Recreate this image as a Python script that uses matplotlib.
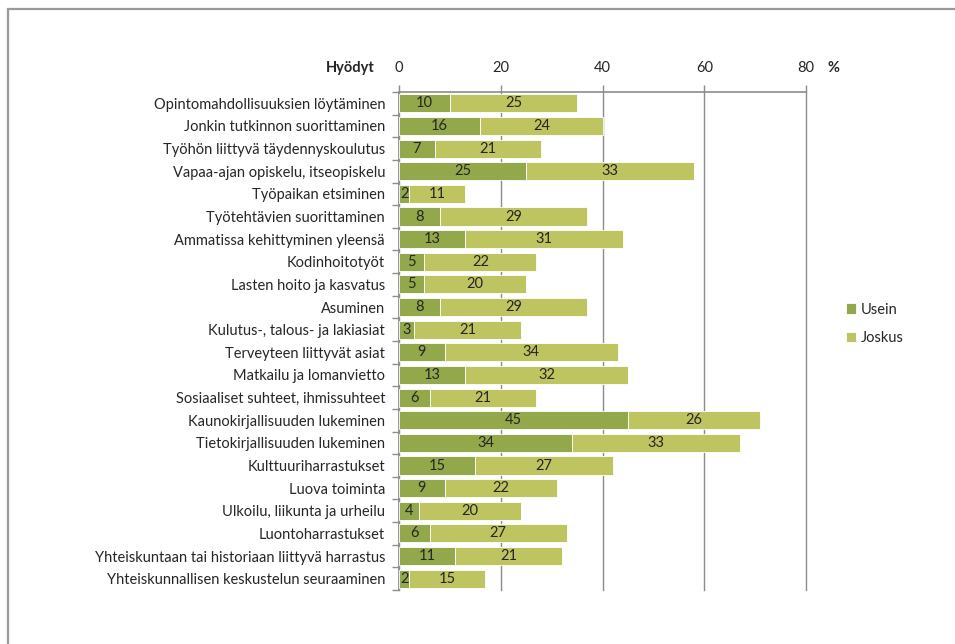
import matplotlib
matplotlib.use("Agg")
import matplotlib.pyplot as plt
from matplotlib.patches import Rectangle
from matplotlib.ticker import FixedLocator
import numpy as np

plt.rcParams['font.family'] = ['Lato', 'DejaVu Sans']

categories = [
    "Opintomahdollisuuksien löytäminen",
    "Jonkin tutkinnon suorittaminen",
    "Työhön liittyvä täydennyskoulutus",
    "Vapaa-ajan opiskelu, itseopiskelu",
    "Työpaikan etsiminen",
    "Työtehtävien suorittaminen",
    "Ammatissa kehittyminen yleensä",
    "Kodinhoitotyöt",
    "Lasten hoito ja kasvatus",
    "Asuminen",
    "Kulutus-, talous- ja lakiasiat",
    "Terveyteen liittyvät asiat",
    "Matkailu ja lomanvietto",
    "Sosiaaliset suhteet, ihmissuhteet",
    "Kaunokirjallisuuden lukeminen",
    "Tietokirjallisuuden lukeminen",
    "Kulttuuriharrastukset",
    "Luova toiminta",
    "Ulkoilu, liikunta ja urheilu",
    "Luontoharrastukset",
    "Yhteiskuntaan tai historiaan liittyvä harrastus",
    "Yhteiskunnallisen keskustelun seuraaminen",
]
usein = [10, 16, 7, 25, 2, 8, 13, 5, 5, 8, 3, 9, 13, 6, 45, 34, 15, 9, 4, 6, 11, 2]
joskus = [25, 24, 21, 33, 11, 29, 31, 22, 20, 29, 21, 34, 32, 21, 26, 33, 27, 22, 20, 27, 21, 15]
series_names = ["Usein", "Joskus"]
xticks = [0, 20, 40, 60, 80]

c_usein = "#93A84A"
c_joskus = "#BEC460"
txt = "#262626"
fs = 10.5

fig = plt.figure(figsize=(9.55, 6.44), dpi=100)
fig.patches.append(Rectangle((7.5/955, -0.1), 1.2, 1 - 9/644 + 0.1, transform=fig.transFigure,
                             fill=False, edgecolor="#9a9a9a", linewidth=1.6, zorder=0))
ax = fig.add_axes([399/955, 1 - 590/644, (806-399)/955, (590-92)/644])

y = np.arange(len(categories))
h = 0.8
b1 = ax.barh(y, usein, height=h, color=c_usein, edgecolor="white", linewidth=0.6, label=series_names[0], zorder=3)
b2 = ax.barh(y, joskus, left=usein, height=h, color=c_joskus, edgecolor="white", linewidth=0.6, label=series_names[1], zorder=3)

for i in range(len(categories)):
    ax.text(usein[i] / 2, y[i], str(usein[i]), ha="center", va="center", fontsize=fs, color=txt, zorder=4)
    ax.text(usein[i] + joskus[i] / 2, y[i], str(joskus[i]), ha="center", va="center", fontsize=fs, color=txt, zorder=4)

ax.set_xlim(0, 80)
ax.set_ylim(len(categories) - 0.5, -0.5)
ax.xaxis.tick_top()
ax.set_xticks(xticks)
ax.set_xticklabels([str(v) for v in xticks], fontsize=fs, color=txt)
ax.tick_params(axis="x", length=5, width=1, color="#8c8c8c", pad=7.5)
ax.set_yticks(y)
ax.set_yticklabels(categories, fontsize=fs, color=txt)
ax.tick_params(axis="y", which="major", length=0, pad=10)
ax.yaxis.set_minor_locator(FixedLocator(np.arange(-0.5, len(categories), 1.0)))
ax.tick_params(axis="y", which="minor", length=5, width=1, color="#8c8c8c")
ax.grid(axis="x", color="#8c8c8c", linewidth=1, zorder=1)
ax.set_axisbelow(True)
for gl in ax.get_xgridlines():
    gl.set_clip_on(False)
for s in ["right", "bottom"]:
    ax.spines[s].set_visible(False)
for s in ["top", "left"]:
    ax.spines[s].set_color("#8c8c8c")
    ax.spines[s].set_linewidth(1.2)

fig.text(375/955, 1 - 68/644, "Hyödyt", ha="right", va="center", fontsize=fs, fontweight="bold", color=txt)
fig.text(827/955, 1 - 68/644, "%", ha="left", va="center", fontsize=fs, fontweight="bold", color=txt)

leg = fig.legend(handles=[b1, b2], labels=series_names, loc="center left",
                 bbox_to_anchor=(833/955, 1 - 324/644), frameon=False, fontsize=fs,
                 handlelength=0.7, handleheight=0.7, handletextpad=0.3, labelspacing=1.0)
for t in leg.get_texts():
    t.set_color(txt)

fig.savefig("out.png", dpi=100, facecolor="white")
